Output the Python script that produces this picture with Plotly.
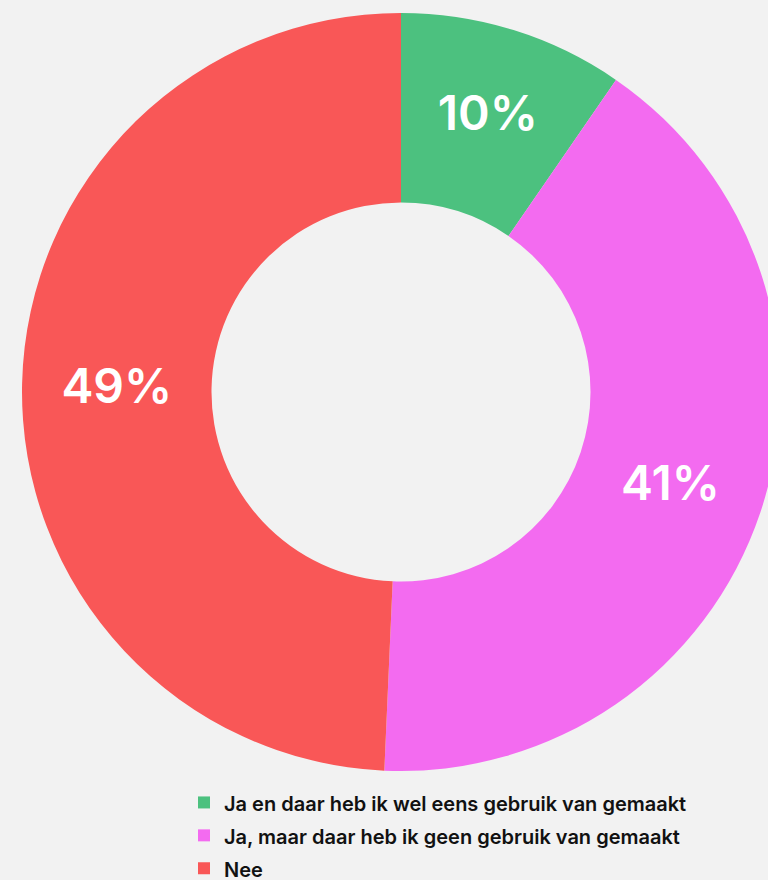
import plotly.graph_objects as go

labels = [
    "Ja en daar heb ik wel eens gebruik van gemaakt",
    "Ja, maar daar heb ik geen gebruik van gemaakt",
    "Nee",
]
values = [9.6, 41.1, 49.3]
colors = ["#4cc17f", "#f36bf0", "#f95757"]

FONT = "Inter"

legend_labels = ["<span style='font-size:20px'>%s</span>" % l for l in labels]

fig = go.Figure(
    go.Pie(
        labels=legend_labels,
        values=values,
        hole=0.5,
        sort=False,
        direction="clockwise",
        rotation=0,
        marker=dict(colors=colors, line=dict(width=0)),
        texttemplate="%{percent:.0%}",
        textposition="inside",
        insidetextorientation="horizontal",
        insidetextfont=dict(family=FONT, size=48, color="white", weight=600),
        hoverinfo="label+percent",
    )
)

fig.update_layout(
    width=790,
    height=880,
    paper_bgcolor="#f2f2f2",
    plot_bgcolor="#f2f2f2",
    margin=dict(l=22, r=10, t=13, b=109, autoexpand=False),
    font=dict(family=FONT, color="#111111"),
    showlegend=True,
    legend=dict(
        orientation="v",
        xref="container",
        yref="container",
        x=184 / 790,
        y=1 - 781 / 880,
        xanchor="left",
        yanchor="top",
        font=dict(family=FONT, size=23, color="#111111", weight=600),
        bgcolor="rgba(0,0,0,0)",
    ),
)

fig.write_html(
    "out.html",
    config={"displayModeBar": False},
    post_script="document.body.style.margin='0';document.body.style.overflow='hidden';document.body.style.background='#f2f2f2';",
)
